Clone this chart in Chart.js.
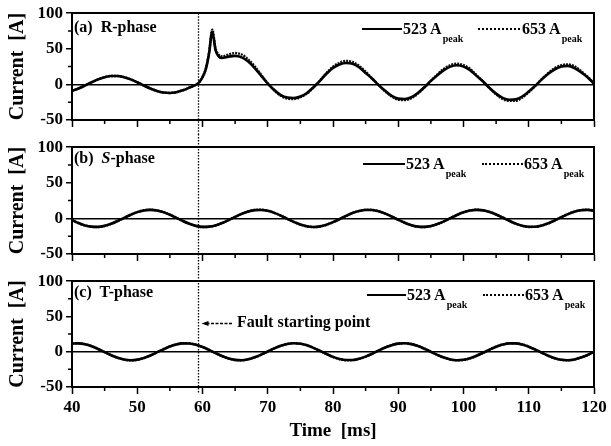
<!DOCTYPE html>
<html><head><meta charset="utf-8">
<script src="https://cdn.jsdelivr.net/npm/chart.js@4.4.0/dist/chart.umd.min.js"></script>
<style>
html,body{margin:0;padding:0;background:#fff;}
#wrap{position:relative;width:611px;height:446px;overflow:hidden;font-family:'Liberation Serif','Times New Roman',serif;font-weight:bold;color:#000;}
.pane{position:absolute;left:0;width:611px;}
.pane canvas{display:block;}
.lbl{position:absolute;white-space:pre;line-height:1;font-size:16px;}
.sub{font-size:10px;position:relative;top:8px;margin-left:1px;}
.ln{position:absolute;height:0;border-top:2px solid #000;}
.ln.dot{border-top:2px dotted #000;}
</style></head><body>
<div id="wrap">
  <div class="pane" style="top:0;height:134px"><canvas id="cA" width="611" height="134"></canvas></div>
  <div class="pane" style="top:134px;height:134px"><canvas id="cB" width="611" height="134"></canvas></div>
  <div class="pane" style="top:268px;height:178px"><canvas id="cC" width="611" height="178"></canvas></div>

  <div class="lbl" style="left:74px;top:19px">(a)  R-phase</div>
  <div class="lbl" style="left:74px;top:150px">(b)  <i>S</i>-phase</div>
  <div class="lbl" style="left:74px;top:284px">(c)  T-phase</div>

  <div class="ln" style="left:362px;top:28px;width:40px"></div>
  <div class="lbl" style="left:403px;top:21px">523 A<span class="sub">peak</span></div>
  <div class="ln dot" style="left:478px;top:28px;width:42px"></div>
  <div class="lbl" style="left:522px;top:21px">653 A<span class="sub">peak</span></div>

  <div class="ln" style="left:363px;top:163px;width:42px"></div>
  <div class="lbl" style="left:406px;top:156px">523 A<span class="sub">peak</span></div>
  <div class="ln dot" style="left:482px;top:163px;width:41px"></div>
  <div class="lbl" style="left:524px;top:156px">653 A<span class="sub">peak</span></div>

  <div class="ln" style="left:367px;top:294px;width:39px"></div>
  <div class="lbl" style="left:407px;top:287px">523 A<span class="sub">peak</span></div>
  <div class="ln dot" style="left:483px;top:294px;width:41px"></div>
  <div class="lbl" style="left:525px;top:287px">653 A<span class="sub">peak</span></div>

  <div class="lbl" style="left:237px;top:314px">Fault starting point</div>
</div>
<script>
// ---- data ----
const faultTime = 59.3; // ms
const faultArrowLevel = 41; // A, height of the annotation arrow in panel (c)
const timeTicksMinor = [45, 55, 65, 75, 85, 95, 105, 115];
const currentTicksMinor = [-25, 25, 75];

const timeR = [40,41,42,43,44,45,46,47,48,49,50,51,52,53,54,55,56,57,58,59,
  59.5,60,60.5,61,61.5,62,62.5,63,
  64,65,66,67,68,69,70,71,72,73,74,75,76,77,78,79,80,81,82,83,84,85,86,87,88,89,90,
  91,92,93,94,95,96,97,98,99,100,101,102,103,104,105,106,107,108,109,110,
  111,112,113,114,115,116,117,118,119,120];
const rPhase523 = [-9.2,-5.7,-1.5,3.0,7.1,10.1,11.8,11.8,10.1,7.1,3.0,-1.5,-5.7,-9.2,-11.4,-12.0,-10.9,-8.3,-4.5,-0.5,
  3,10,21,43,74,48,39,37,
  39,40,38,32,23,12,1,-8,-15,-18.5,-19,-17,-12,-4,5,15,23,28,30,29,24,16,8,-1,-9,-16,-20,
  -20.5,-18,-12,-4,5,13,20,25,27,25,20,12,4,-5,-13,-19,-21.5,-21,-17,-10,
  -2,7,15,21,25,26,23,17,10,1];
const rPhase653 = [-9.2,-5.7,-1.5,3.0,7.1,10.1,11.8,11.8,10.1,7.1,3.0,-1.5,-5.7,-9.2,-11.4,-12.0,-10.9,-8.3,-4.5,-0.5,
  3,10.5,22,45,77,51,41.5,39.5,
  42,44,42,35,25.5,13.5,1.5,-8.5,-16,-20,-20.5,-18,-13,-4.5,5.5,16,25,30.5,33,31.5,26,18,8.5,-1,-10,-17,-21.5,
  -22,-19.5,-13,-4.5,5,14,22,27,29,27,22,13,4,-5.5,-14,-20.5,-23,-23,-18.5,-11,
  -2,7.5,16,23,27,28,25.5,19,11,2];

const timeST = [40,41,42,43,44,45,46,47,48,49,50,51,52,53,54,55,56,57,58,59,60,
  61,62,63,64,65,66,67,68,69,70,71,72,73,74,75,76,77,78,79,80,
  81,82,83,84,85,86,87,88,89,90,91,92,93,94,95,96,97,98,99,100,
  101,102,103,104,105,106,107,108,109,110,111,112,113,114,115,116,117,118,119,120];
const sPhase523 = [-2.4,-6.5,-9.8,-11.6,-11.9,-10.5,-7.6,-3.7,0.8,5.1,8.8,11.2,12,11.2,8.8,5.1,0.8,-3.7,-7.6,-10.5,-11.9,
  -11.6,-9.8,-6.5,-2.4,2.1,6.3,9.6,11.6,11.9,10.6,7.8,3.9,-0.6,-4.9,-8.6,-11.1,-12,-11.2,-8.9,-5.3,
  -1.0,3.5,7.5,10.4,11.9,11.7,9.9,6.7,2.6,-1.9,-6.1,-9.5,-11.5,-11.9,-10.7,-7.9,-4.1,0.4,4.8,8.5,
  11.0,12.0,11.3,9.0,5.5,1.2,-3.3,-7.3,-10.3,-11.8,-11.7,-10.0,-6.9,-2.8,1.7,6.0,9.4,11.5,12.0,10.8];
const sPhase653 = [-2.4,-6.6,-9.9,-11.8,-12.1,-10.6,-7.7,-3.7,0.8,5.2,8.9,11.4,12.2,11.4,8.9,5.2,0.8,-3.7,-7.7,-10.6,-12.1,
  -11.8,-9.9,-6.6,-2.4,2.1,6.4,9.7,11.8,12.1,10.7,7.9,3.9,-0.6,-5.0,-8.7,-11.3,-12.2,-11.4,-9.0,-5.4,
  -1.0,3.5,7.6,10.6,12.1,11.9,10.0,6.8,2.6,-1.9,-6.2,-9.6,-11.7,-12.1,-10.9,-8.0,-4.2,0.4,4.9,8.6,
  11.2,12.2,11.5,9.1,5.6,1.2,-3.4,-7.4,-10.5,-12.0,-11.9,-10.2,-7.0,-2.8,1.7,6.1,9.5,11.7,12.2,11.0];
const tPhase523 = [11.6,11.9,10.6,7.8,3.9,-0.6,-4.9,-8.6,-11.1,-12.0,-11.2,-8.9,-5.3,-1.0,3.4,7.4,10.4,11.9,11.7,9.9,6.7,
  2.6,-1.9,-6.1,-9.5,-11.5,-12.0,-10.7,-7.9,-4.1,0.4,4.7,8.4,11.0,12.0,11.3,9.1,5.5,1.2,-3.2,-7.3,
  -10.3,-11.8,-11.7,-10.0,-6.9,-2.8,1.7,5.9,9.3,11.5,12.0,10.8,8.1,4.3,-0.1,-4.5,-8.3,-10.9,-12.0,-11.4,
  -9.2,-5.7,-1.5,3.0,7.1,10.1,11.8,11.8,10.2,7.1,3.0,-1.4,-5.7,-9.2,-11.4,-12.0,-10.9,-8.3,-4.6,-0.1];
const tPhase653 = [11.8,12.1,10.8,7.9,4.0,-0.6,-5.0,-8.7,-11.3,-12.2,-11.4,-9.0,-5.4,-1.0,3.5,7.5,10.6,12.1,11.9,10.0,6.8,
  2.6,-1.9,-6.2,-9.6,-11.7,-12.2,-10.9,-8.0,-4.2,0.4,4.8,8.5,11.2,12.2,11.5,9.2,5.6,1.2,-3.3,-7.4,
  -10.5,-12.0,-11.9,-10.2,-7.0,-2.8,1.7,6.0,9.4,11.7,12.2,11.0,8.2,4.4,-0.1,-4.6,-8.4,-11.1,-12.2,-11.6,
  -9.3,-5.8,-1.5,3.0,7.2,10.3,12.0,12.0,10.4,7.2,3.0,-1.4,-5.8,-9.3,-11.6,-12.2,-11.1,-8.4,-4.7,-0.1];

const seriesNames = ['523 Apeak', '653 Apeak'];
const yTicksMajorStep = 50;
const xTicksMajorStep = 10;

// ---- drawing ----
const FAM = "'Liberation Serif', 'Times New Roman', serif";
const tickFont = { family: FAM, weight: 'bold', size: 17 };

function pts(xs, ys) { return xs.map((x, i) => ({ x: x, y: ys[i] })); }

const faultPlugin = {
  id: 'faultLine',
  afterDatasetsDraw(chart, args, opts) {
    const { ctx, chartArea, scales } = chart;
    const x = Math.round(scales.x.getPixelForValue(faultTime)) + 0.5;
    const y0 = opts.fromTop ? chartArea.top : 0;
    const y1 = opts.toBottom ? chartArea.bottom + 6 : chart.height;
    ctx.save();
    ctx.strokeStyle = '#000';
    ctx.lineWidth = 1.3;
    ctx.setLineDash([1.5, 1.5]);
    ctx.beginPath(); ctx.moveTo(x, y0); ctx.lineTo(x, y1); ctx.stroke();
    if (opts.arrowValue != null) {
      const ay = Math.round(scales.y.getPixelForValue(opts.arrowValue)) + 0.5;
      ctx.setLineDash([3, 1.5]);
      ctx.beginPath(); ctx.moveTo(x + 8, ay); ctx.lineTo(x + 35, ay); ctx.stroke();
      ctx.setLineDash([]);
      ctx.fillStyle = '#000';
      ctx.beginPath(); ctx.moveTo(x + 3, ay); ctx.lineTo(x + 10, ay - 2.5); ctx.lineTo(x + 10, ay + 2.5); ctx.closePath(); ctx.fill();
    }
    ctx.restore();
  }
};

const minorTickPlugin = {
  id: 'minorTicks',
  afterDraw(chart) {
    const { ctx, chartArea: a, scales } = chart;
    ctx.save();
    ctx.strokeStyle = '#000';
    ctx.lineWidth = 1.5;
    ctx.beginPath();
    timeTicksMinor.forEach(v => {
      const px = scales.x.getPixelForValue(v);
      ctx.moveTo(px, a.bottom); ctx.lineTo(px, a.bottom + 4);
    });
    currentTicksMinor.forEach(v => {
      const py = scales.y.getPixelForValue(v);
      ctx.moveTo(a.left - 4, py); ctx.lineTo(a.left, py);
    });
    ctx.stroke();
    ctx.restore();
  }
};

function makeChart(id, t, v523, v653, cfg) {
  return new Chart(document.getElementById(id), {
    type: 'line',
    data: {
      datasets: [
        { label: seriesNames[0], data: pts(t, v523), borderColor: '#000', borderWidth: 2.6, pointRadius: 0, cubicInterpolationMode: 'monotone', fill: false },
        { label: seriesNames[1], data: pts(t, v653), borderColor: '#111', borderWidth: 2.4, borderDash: [2, 1], pointRadius: 0, cubicInterpolationMode: 'monotone', fill: false }
      ]
    },
    options: {
      responsive: false,
      animation: false,
      events: [],
      layout: { padding: { top: cfg.padTop, right: 17, left: 0, bottom: 0 } },
      plugins: { legend: { display: false }, tooltip: { enabled: false }, faultLine: cfg.fault },
      scales: {
        x: {
          type: 'linear', position: 'bottom', min: 40, max: 120,
          ticks: { stepSize: xTicksMajorStep, display: cfg.showX, font: tickFont, color: '#000', padding: 3, maxRotation: 0, autoSkip: false },
          grid: { display: true, drawOnChartArea: false, drawTicks: true, tickLength: 7, tickColor: '#000', tickWidth: 1.5 },
          border: { display: true, color: '#000', width: 2 },
          title: { display: cfg.showX, text: 'Time  [ms]', font: { family: FAM, weight: 'bold', size: 19 }, color: '#000', padding: { top: 0, bottom: 4 } },
          afterFit: s => { s.height = cfg.xHeight; }
        },
        y: {
          type: 'linear', position: 'left', min: -50, max: 100,
          ticks: { stepSize: yTicksMajorStep, font: tickFont, color: '#000', padding: 3 },
          grid: { color: c => (c.tick && c.tick.value === 0) ? '#000' : 'rgba(0,0,0,0)', lineWidth: 1.5, drawTicks: true, tickLength: 6, tickColor: '#000', tickWidth: 1.5 },
          border: { display: true, color: '#000', width: 2 },
          title: { display: true, text: 'Current  [A]', font: { family: FAM, weight: 'bold', size: 20 }, color: '#000', padding: { top: 6, bottom: 0 } },
          afterFit: s => { s.width = 72; }
        },
        x2: {
          type: 'linear', position: 'top', min: 40, max: 120,
          ticks: { display: false }, grid: { display: false, drawTicks: false },
          border: { display: true, color: '#000', width: 2 }
        },
        y2: {
          type: 'linear', position: 'right', min: -50, max: 100,
          ticks: { display: false }, grid: { display: false, drawTicks: false },
          border: { display: true, color: '#000', width: 2 }
        }
      }
    },
    plugins: [faultPlugin, minorTickPlugin]
  });
}

makeChart('cA', timeR, rPhase523, rPhase653, { padTop: 13, xHeight: 14, showX: false, fault: { fromTop: true, toBottom: false } });
makeChart('cB', timeST, sPhase523, sPhase653, { padTop: 13, xHeight: 14, showX: false, fault: { fromTop: false, toBottom: false } });
makeChart('cC', timeST, tPhase523, tPhase653, { padTop: 12, xHeight: 59, showX: true, fault: { fromTop: false, toBottom: true, arrowValue: faultArrowLevel } });
</script>
</body></html>
